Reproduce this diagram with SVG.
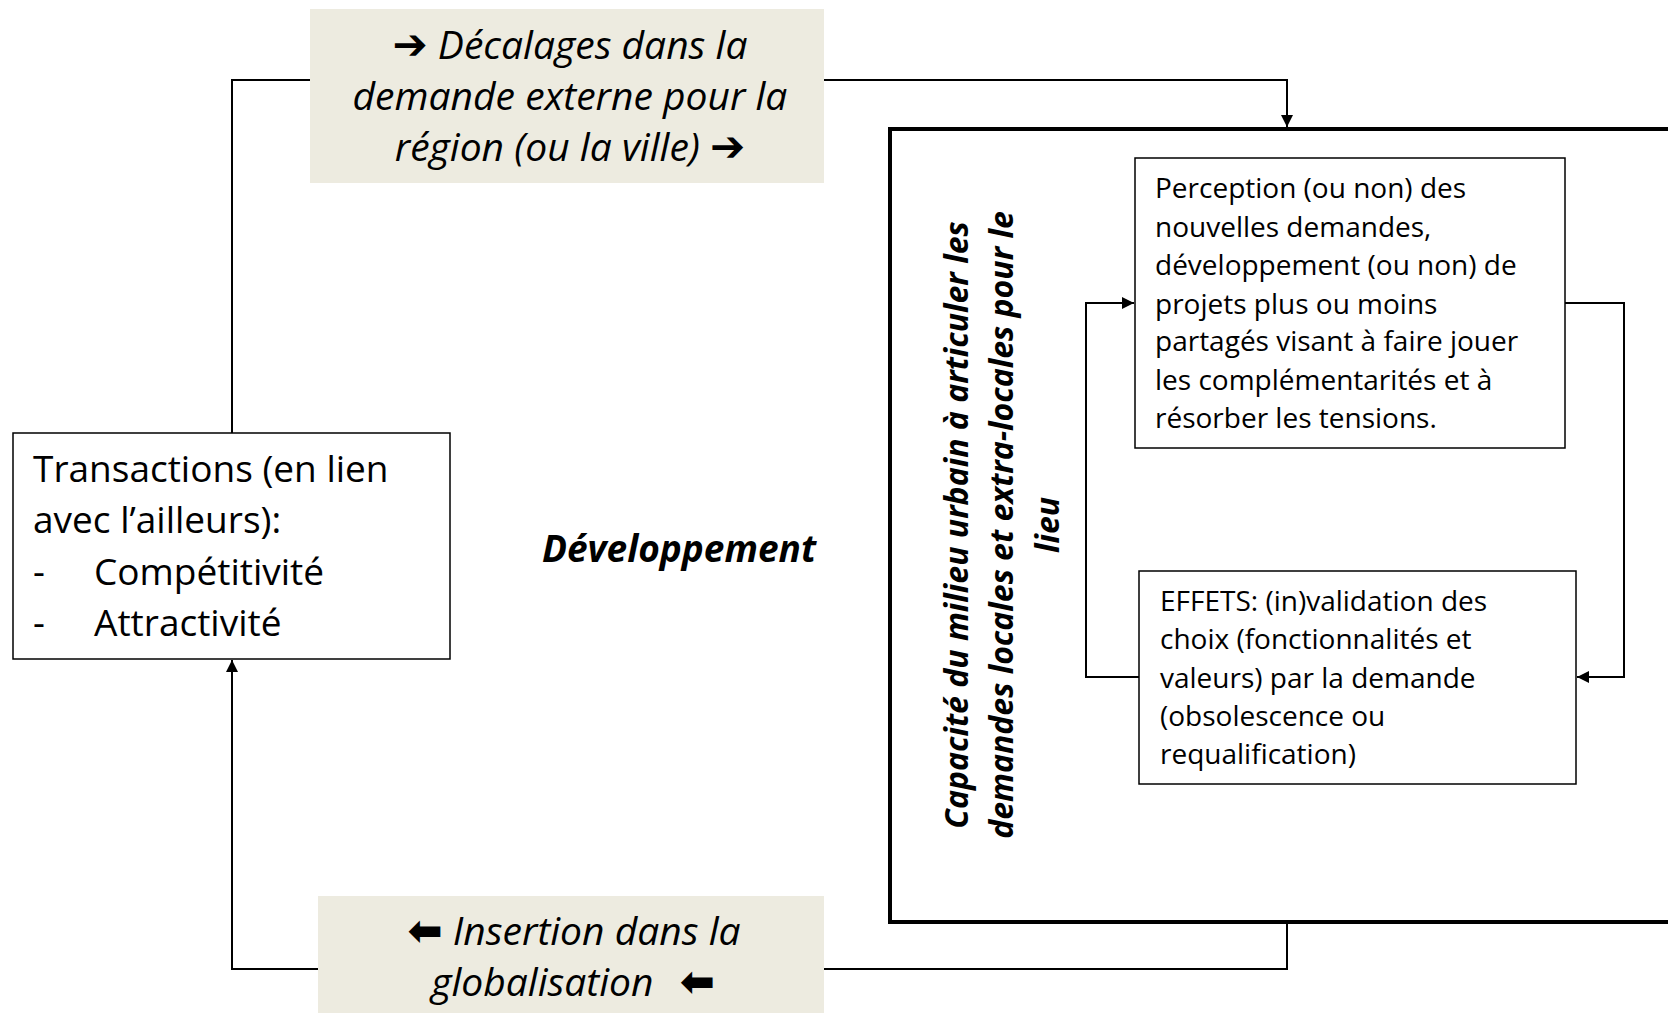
<svg xmlns="http://www.w3.org/2000/svg" width="1668" height="1013" viewBox="0 0 1668 1013">
<style>
.box{fill:#fff;stroke:#000;stroke-width:1.5}
.lbl{fill:#EDEBE0;stroke:none}
.big{fill:none;stroke:#000;stroke-width:4}
.conn{fill:none;stroke:#000;stroke-width:2}
.t{font-family:"Open Sans","Liberation Sans",sans-serif;fill:#000}
.it{font-style:italic}
.bi{font-style:italic;font-weight:bold}
.ar{font-style:normal;font-weight:bold;font-family:"DejaVu Sans",sans-serif;font-size:42px}
</style>
<defs>
<marker id="ah" viewBox="0 0 10 10" refX="10" refY="5" markerWidth="6" markerHeight="6" orient="auto" markerUnits="strokeWidth">
<path d="M0,0 L10,5 L0,10 z" fill="#000"/>
</marker>
</defs>
<g id="connectors">
<polyline class="conn" points="232,433 232,80 310,80"/>
<polyline class="conn" points="824,80 1287,80 1287,127" marker-end="url(#ah)"/>
<polyline class="conn" points="1287,922 1287,969 824,969"/>
<polyline class="conn" points="318,969 232,969 232,660" marker-end="url(#ah)"/>
<polyline class="conn" points="1565,303 1624,303 1624,677 1577,677" marker-end="url(#ah)"/>
<polyline class="conn" points="1139,677 1086,677 1086,303 1134,303" marker-end="url(#ah)"/>
</g>
<g id="capacite">
<rect class="big" x="890" y="129" width="790" height="793"/>
<g class="t bi" font-size="32" text-anchor="middle">
<text transform="translate(968,525) rotate(-90)">Capacité du milieu urbain à articuler les</text>
<text transform="translate(1013,525) rotate(-90)">demandes locales et extra-locales pour le</text>
<text transform="translate(1059,525) rotate(-90)">lieu</text>
</g>
</g>
<g id="decalages">
<rect class="lbl" x="310" y="9" width="514" height="174"/>
<g class="t it" font-size="39" text-anchor="middle">
<text x="570" y="59"><tspan class="ar">➔</tspan> Décalages dans la</text>
<text x="570" y="110">demande externe pour la</text>
<text x="570" y="161">région (ou la ville) <tspan class="ar">➔</tspan></text>
</g>
</g>
<g id="insertion">
<rect class="lbl" x="318" y="896" width="506" height="117"/>
<g class="t it" font-size="39" text-anchor="middle">
<text x="574" y="945"><tspan class="ar">⬅</tspan> Insertion dans la</text>
<text x="573" y="996">globalisation <tspan class="ar" dx="16">⬅</tspan></text>
</g>
</g>
<g id="transactions">
<rect class="box" x="13" y="433" width="437" height="226"/>
<g class="t" font-size="37">
<text x="33" y="482">Transactions (en lien</text>
<text x="33" y="533">avec l’ailleurs):</text>
<text x="33" y="585">-</text><text x="94" y="585">Compétitivité</text>
<text x="33" y="636">-</text><text x="94" y="636">Attractivité</text>
</g>
</g>
<g id="developpement">
<text class="t bi" x="679" y="562" font-size="37" text-anchor="middle">Développement</text>
</g>
<g id="perception">
<rect class="box" x="1135" y="158" width="430" height="290"/>
<g class="t" font-size="28">
<text x="1155" y="198">Perception (ou non) des</text>
<text x="1155" y="237">nouvelles demandes,</text>
<text x="1155" y="275">développement (ou non) de</text>
<text x="1155" y="314">projets plus ou moins</text>
<text x="1155" y="351">partagés visant à faire jouer</text>
<text x="1155" y="390">les complémentarités et à</text>
<text x="1155" y="428">résorber les tensions.</text>
</g>
</g>
<g id="effets">
<rect class="box" x="1139" y="571" width="437" height="213"/>
<g class="t" font-size="28">
<text x="1160" y="611">EFFETS: (in)validation des</text>
<text x="1160" y="649">choix (fonctionnalités et</text>
<text x="1160" y="688">valeurs) par la demande</text>
<text x="1160" y="726">(obsolescence ou</text>
<text x="1160" y="764">requalification)</text>
</g>
</g>
</svg>
